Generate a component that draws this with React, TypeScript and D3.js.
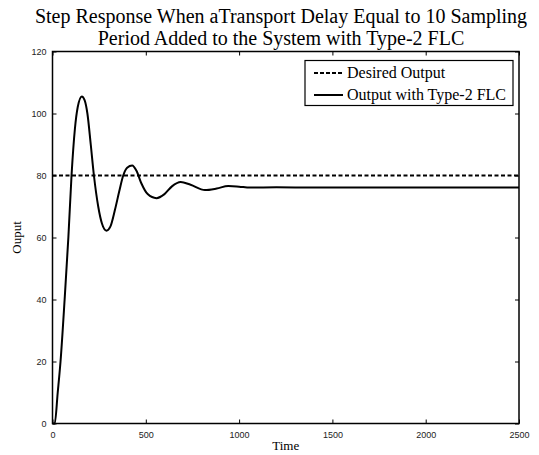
import React, { useEffect, useRef } from "react";
import * as d3 from "d3";

const timeValues = [0, 12, 28, 43, 65, 85, 102, 120, 135, 157, 172, 187, 205, 222, 245, 265, 289, 310, 335, 358, 379, 400, 427, 450, 476, 510, 557, 600, 640, 687, 740, 817, 880, 942, 1000, 1058, 1200, 1400, 1600, 1800, 2000, 2200, 2500];
const outputValues = [0, 0, 10, 20, 40, 60, 80, 95, 102, 105.5, 104.3, 100, 90, 80, 70, 64.5, 62.2, 63.5, 69, 75, 80, 82.5, 83.2, 81.5, 77.5, 74, 72.7, 74, 76.5, 77.9, 77, 75.3, 75.8, 76.6, 76.4, 76.1, 76.2, 76.1, 76.1, 76.1, 76.1, 76.1, 76.1];
const desiredTime = [0, 2500];
const desiredValues = [80, 80];
const xTicks = [0, 500, 1000, 1500, 2000, 2500];
const yTicks = [0, 20, 40, 60, 80, 100, 120];
const titleLines = [
  "Step Response When aTransport Delay Equal to 10 Sampling",
  "Period Added to the System with Type-2 FLC",
];
const legendLabels = ["Desired Output", "Output with Type-2 FLC"];
const xLabel = "Time";
const yLabel = "Ouput";

export default function App() {
  const ref = useRef<SVGSVGElement>(null);
  useEffect(() => {
    const svg = d3.select(ref.current);
    svg.selectAll("*").remove();
    const L = 52.5, R = 519, T = 51.5, B = 423.5;
    const x = d3.scaleLinear().domain([0, 2500]).range([L, R]);
    const y = d3.scaleLinear().domain([0, 120]).range([B, T]);
    const serif = "'Liberation Serif', 'Times New Roman', serif";
    const sans = "'Liberation Sans', Arial, sans-serif";

    // title
    svg.append("g").selectAll("text").data(titleLines).join("text")
      .attr("x", 281).attr("y", (d, i) => 23 + i * 22)
      .attr("text-anchor", "middle").attr("font-family", serif)
      .attr("font-size", 20).attr("fill", "#000").text(d => d);

    // axes
    const fmt = (d: any) => String(d);
    const bottom = svg.append("g").attr("transform", `translate(0,${B})`)
      .call(d3.axisBottom(x).tickValues(xTicks).tickSize(-4).tickSizeOuter(0).tickPadding(8).tickFormat(fmt));
    const left = svg.append("g").attr("transform", `translate(${L},0)`)
      .call(d3.axisLeft(y).tickValues(yTicks).tickSize(-4).tickSizeOuter(0).tickPadding(6).tickFormat(fmt));
    const top = svg.append("g").attr("transform", `translate(0,${T})`)
      .call(d3.axisTop(x).tickValues(xTicks).tickSize(-4).tickSizeOuter(0).tickFormat(() => ""));
    const right = svg.append("g").attr("transform", `translate(${R},0)`)
      .call(d3.axisRight(y).tickValues(yTicks).tickSize(-4).tickSizeOuter(0).tickFormat(() => ""));
    [bottom, left, top, right].forEach(g => {
      g.select(".domain").remove();
      g.selectAll(".tick line").attr("stroke", "#000").attr("stroke-width", 1);
      g.selectAll(".tick text").attr("font-family", sans).attr("font-size", 9).attr("fill", "#222");
    });
    svg.append("rect").attr("x", L).attr("y", T).attr("width", R - L).attr("height", B - T)
      .attr("fill", "none").attr("stroke", "#000").attr("stroke-width", 1.5);

    // lines
    const desired = desiredTime.map((t, i) => [t, desiredValues[i]] as [number, number]);
    const out = timeValues.map((t, i) => [t, outputValues[i]] as [number, number]);
    const line = d3.line<[number, number]>().x(d => x(d[0])).y(d => y(d[1]));
    svg.append("path").attr("d", line(desired)).attr("fill", "none").attr("stroke", "#000")
      .attr("stroke-width", 2).attr("stroke-dasharray", "4,2.5");
    svg.append("path").attr("d", line.curve(d3.curveMonotoneX)(out)).attr("fill", "none").attr("stroke", "#000")
      .attr("stroke-width", 2).attr("stroke-linejoin", "round");

    // axis labels
    svg.append("text").attr("x", (L + R) / 2).attr("y", 450).attr("text-anchor", "middle")
      .attr("font-family", serif).attr("font-size", 13).text(xLabel);
    svg.append("text").attr("transform", `translate(21,${(T + B) / 2}) rotate(-90)`).attr("text-anchor", "middle")
      .attr("font-family", serif).attr("font-size", 13).text(yLabel);

    // legend
    const lg = svg.append("g");
    lg.append("rect").attr("x", 305).attr("y", 60.5).attr("width", 208).attr("height", 45)
      .attr("fill", "#fff").attr("stroke", "#000").attr("stroke-width", 1.2);
    legendLabels.forEach((lab, i) => {
      const yy = 73 + i * 22;
      lg.append("line").attr("x1", 314).attr("x2", 343).attr("y1", yy).attr("y2", yy)
        .attr("stroke", "#000").attr("stroke-width", 2).attr("stroke-dasharray", i === 0 ? "4,2" : null);
      lg.append("text").attr("x", 347).attr("y", yy + 5).attr("font-family", serif)
        .attr("font-size", 16).text(lab);
    });
  }, []);
  return <svg ref={ref} width={539} height={455} style={{ position: "absolute", left: 0, top: 0, background: "#fff" }} />;
}
